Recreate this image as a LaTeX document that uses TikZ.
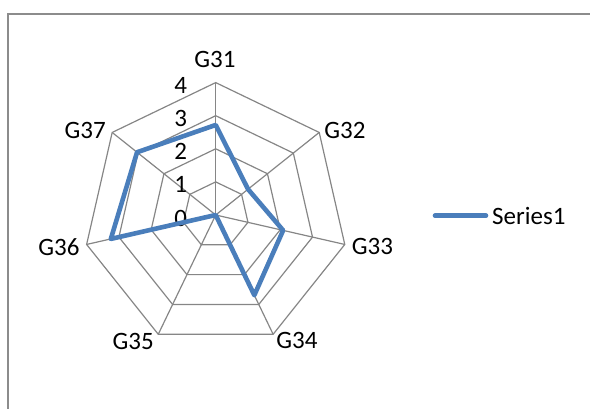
\documentclass[tikz,border=0pt]{standalone}
\usepackage{fontspec}
\setmainfont{Carlito}
\definecolor{gridgray}{HTML}{868686}
\definecolor{framegray}{HTML}{8C8C8C}
\definecolor{serieblue}{HTML}{4A7EBB}

\begin{document}
\begin{tikzpicture}[x=1pt,y=1pt,
    gridline/.style={draw=gridgray,line width=1.2pt},
    serie/.style={draw=serieblue,line width=4.6pt,line join=round,line cap=round},
    axlabel/.style={font=\fontsize{25}{30}\selectfont,inner sep=0pt}]
            \useasboundingbox (0,0) rectangle (590,409);
            \draw [framegray,line width=1.5pt] (8,0) -- (8,395) -- (590,395);
            \pgfmathsetmacro{\u}{33.1};
            \begin{scope}[shift={(215.7,194)}]
            \coordinate (c) at (0,0);
            \foreach \i in {0,...,6} \coordinate (v\i) at ({90-\i*360/7}:{4*\u});
            \foreach \r in {1,...,4}
                \draw [gridline] (90:{\r*\u}) \foreach \i in {1,...,6} { -- ({90-\i*360/7}:{\r*\u}) } -- cycle;
            \foreach \i in {0,...,6} \draw [gridline] (c) -- (v\i);
            \foreach \k in {0,...,4}
                \node [axlabel,anchor=east] (t\k) at (-28.4,{\k*\u-3}) {\k};
            \foreach \v [count=\i from 0] in {2.72,1.25,2.09,2.69,0,3.25,3.04}
                \coordinate (d\i) at ({90-\i*360/7}:{\v*\u});
            \draw [serie] (d0) -- (d1) -- (d2) -- (d3) -- (d4) -- (d5) -- (d6) -- cycle;
            \node [axlabel] (g31) at (-0.7,155.7) {G31};
            \node [axlabel] (g32) at (129.2,85) {G32};
            \node [axlabel] (g33) at (156.7,-31.7) {G33};
            \node [axlabel] (g34) at (81.2,-125.7) {G34};
            \node [axlabel] (g35) at (-82.5,-126.7) {G35};
            \node [axlabel] (g36) at (-156.8,-31.7) {G36};
            \node [axlabel] (g37) at (-130.5,85) {G37};
            \end{scope}
            % legend
            \node [axlabel,anchor=west] (series1) at (492,193) {Series1};
            \coordinate (legA) at (435,193.3);
            \coordinate (legB) at (486,193.3);
            \draw [serie] (legA) -- (legB);
        \end{tikzpicture}
\end{document}
